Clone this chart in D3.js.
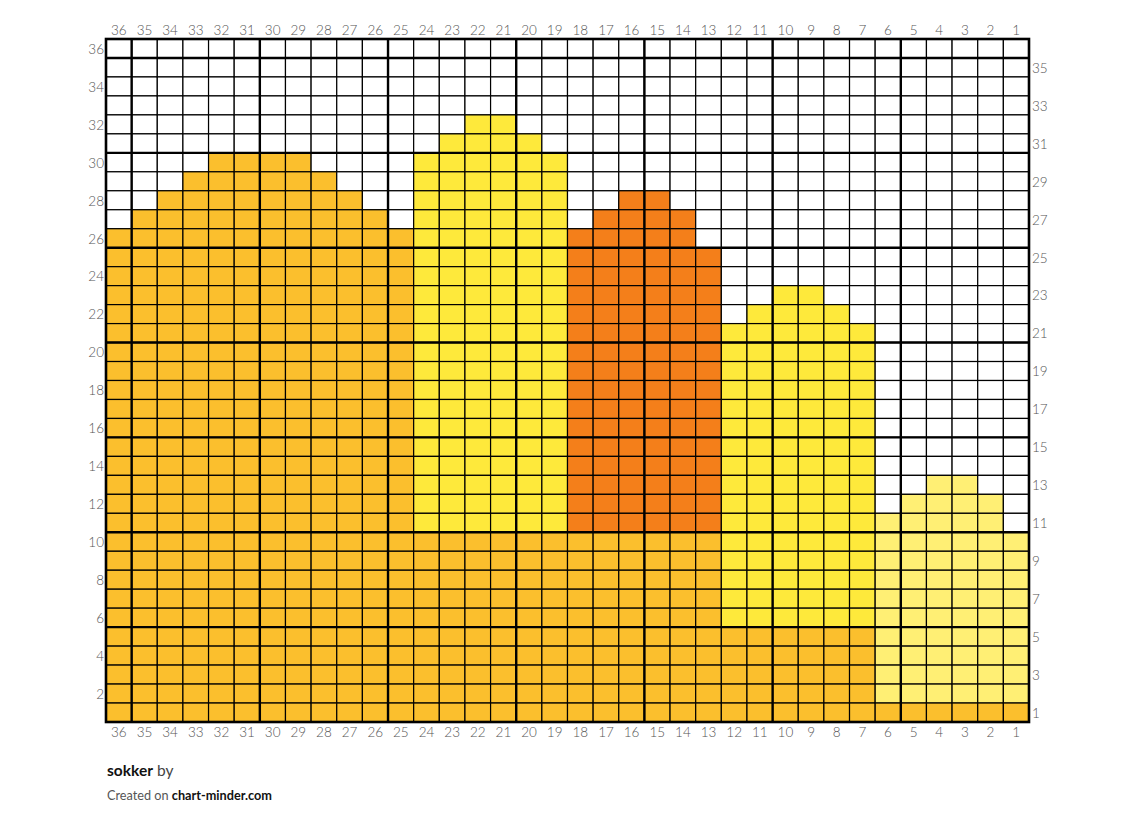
<!DOCTYPE html>
<html>
<head>
<meta charset="utf-8">
<script src="https://cdn.jsdelivr.net/npm/d3@7"></script>
<style>
  body { margin: 0; background: #fff; }
  svg { display: block; font-family: Lato, "Open Sans", sans-serif; }
</style>
</head>
<body>
<svg id="chart"></svg>
<script>
// columns numbered right to left, rows bottom to top
const columns = [36, 35, 34, 33, 32, 31, 30, 29, 28, 27, 26, 25, 24, 23, 22, 21, 20, 19,
                 18, 17, 16, 15, 14, 13, 12, 11, 10, 9, 8, 7, 6, 5, 4, 3, 2, 1];
const rows = [36, 35, 34, 33, 32, 31, 30, 29, 28, 27, 26, 25, 24, 23, 22, 21, 20, 19,
              18, 17, 16, 15, 14, 13, 12, 11, 10, 9, 8, 7, 6, 5, 4, 3, 2, 1];

// top row of the gold base block in every column (col 36 -> col 1)
const goldTop = [26, 27, 28, 29, 30, 30, 30, 30, 29, 28, 27, 26,
                 10, 10, 10, 10, 10, 10, 10, 10, 10, 10, 10, 10,
                 5, 5, 5, 5, 5, 5, 1, 1, 1, 1, 1, 1];
// top row of the second colour sitting on the gold (0 = none)
const upperTop = [0, 0, 0, 0, 0, 0, 0, 0, 0, 0, 0, 0,
                  30, 31, 32, 32, 31, 30, 26, 27, 28, 28, 27, 25,
                  21, 22, 23, 23, 22, 21, 11, 12, 13, 13, 12, 10];
const upperYarn = ["", "", "", "", "", "", "", "", "", "", "", "",
                   "yellow", "yellow", "yellow", "yellow", "yellow", "yellow",
                   "orange", "orange", "orange", "orange", "orange", "orange",
                   "yellow", "yellow", "yellow", "yellow", "yellow", "yellow",
                   "light", "light", "light", "light", "light", "light"];

const yarnColors = {gold: "#fbbf2d", yellow: "#fee93b", orange: "#f47f1a", light: "#ffef74", none: "#ffffff"};

const W = 1135, H = 826;
const gLeft = 106, gRight = 1029, gTop = 39, gBottom = 722;

const svg = d3.select("#chart").attr("width", W).attr("height", H);

const x = d3.scaleBand().domain(columns).range([gLeft, gRight]);
const y = d3.scaleBand().domain(rows).range([gTop, gBottom]);

const cells = [];
columns.forEach((c, i) => {
  rows.forEach(r => {
    let yarn = "none";
    if (r <= goldTop[i]) yarn = "gold";
    else if (r <= upperTop[i]) yarn = upperYarn[i];
    cells.push({col: c, row: r, yarn: yarn});
  });
});

svg.append("g").selectAll("rect").data(cells).enter().append("rect")
  .attr("x", d => x(d.col))
  .attr("y", d => y(d.row))
  .attr("width", x.bandwidth())
  .attr("height", y.bandwidth())
  .attr("fill", d => yarnColors[d.yarn])
  .attr("stroke", "#000")
  .attr("stroke-width", 1.2);

// heavy lines every 5 stitches / rows
const grid = svg.append("g").attr("stroke", "#000").attr("stroke-width", 2.4);
grid.selectAll(".vb").data(columns.filter(c => c % 5 === 0)).enter().append("line")
  .attr("x1", d => x(d)).attr("x2", d => x(d))
  .attr("y1", gTop).attr("y2", gBottom);
grid.selectAll(".hb").data(rows.filter(r => r % 5 === 0)).enter().append("line")
  .attr("y1", d => y(d)).attr("y2", d => y(d))
  .attr("x1", gLeft).attr("x2", gRight);
svg.append("rect")
  .attr("x", gLeft).attr("y", gTop)
  .attr("width", gRight - gLeft).attr("height", gBottom - gTop)
  .attr("fill", "none").attr("stroke", "#000").attr("stroke-width", 2.6);

// axes
const styleAxis = g => {
  g.select(".domain").remove();
  g.selectAll(".tick line").remove();
  g.selectAll("text").attr("fill", "#555").style("font-size", "13.5px")
    .style("font-family", "Lato, sans-serif").style("font-weight", 300);
};
svg.append("g").attr("transform", `translate(0,${gTop - 2})`)
  .call(d3.axisTop(x).tickSize(0).tickPadding(2)).call(styleAxis);
svg.append("g").attr("transform", `translate(0,${gBottom + 3})`)
  .call(d3.axisBottom(x).tickSize(0).tickPadding(2)).call(styleAxis);
svg.append("g").attr("transform", `translate(${gLeft - 1},1)`)
  .call(d3.axisLeft(y).tickValues(rows.filter(r => r % 2 === 0)).tickSize(0).tickPadding(1)).call(styleAxis);
svg.append("g").attr("transform", `translate(${gRight + 2},1)`)
  .call(d3.axisRight(y).tickValues(rows.filter(r => r % 2 === 1)).tickSize(0).tickPadding(1)).call(styleAxis);

// caption
const t1 = svg.append("text").attr("x", 107).attr("y", 776)
  .style("font-family", "Lato, sans-serif").style("font-size", "15.5px");
t1.append("tspan").attr("font-weight", 700).attr("fill", "#111").text("sokker");
t1.append("tspan").attr("fill", "#444").text(" by");

const t2 = svg.append("text").attr("x", 107).attr("y", 800)
  .style("font-family", "Lato, sans-serif").style("font-size", "12.7px");
t2.append("tspan").attr("fill", "#555").text("Created on ");
t2.append("tspan").attr("font-weight", 700).attr("fill", "#111").text("chart-minder.com");
</script>
</body>
</html>
